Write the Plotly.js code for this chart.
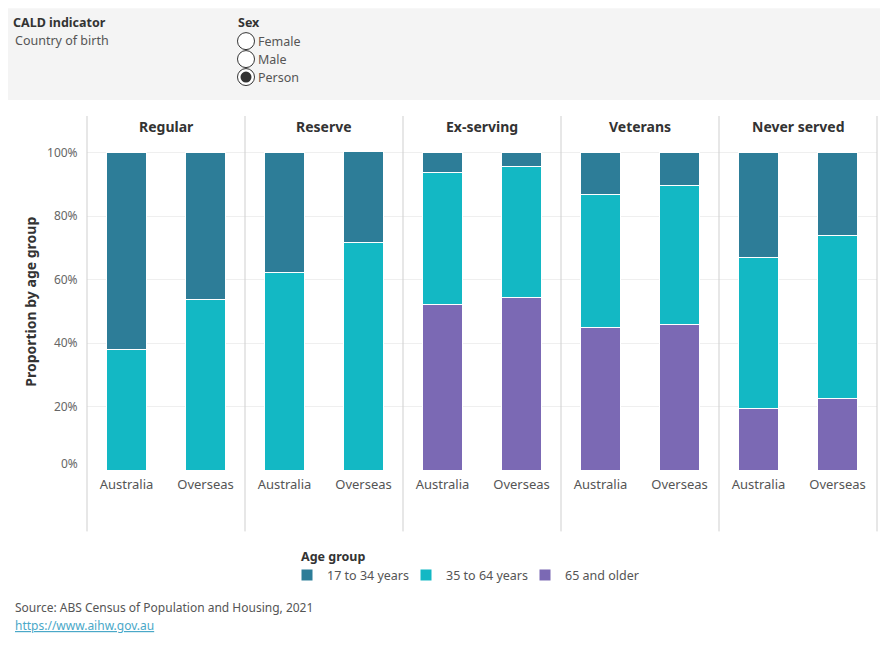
<!DOCTYPE html>
<html>
<head>
<meta charset="utf-8">
<script src="https://cdn.plot.ly/plotly-3.0.1.min.js"></script>
<style>
  html, body { margin: 0; padding: 0; background: #fff; }
  #chart { width: 890px; height: 650px; }
</style>
</head>
<body>
<div id="chart"></div>
<script>
// ---- Data ----
const services = ["Regular", "Reserve", "Ex-serving", "Veterans", "Never served"];
const birthCountries = ["Australia", "Overseas"];
const ageGroups = ["17 to 34 years", "35 to 64 years", "65 and older"];
const ageColors = ["#2d7d98", "#13b8c4", "#7b69b4"];

// values per service: [Australia, Overseas] (percent)
const age17to34 = {
  "Regular":      [62.0, 46.4],
  "Reserve":      [37.8, 28.5],
  "Ex-serving":   [6.4, 4.3],
  "Veterans":     [13.3, 10.2],
  "Never served": [32.9, 26.2]
};
const age35to64 = {
  "Regular":      [38.0, 53.6],
  "Reserve":      [62.2, 71.8],
  "Ex-serving":   [41.3, 41.3],
  "Veterans":     [41.9, 44.1],
  "Never served": [47.8, 51.4]
};
const age65plus = {
  "Regular":      [0, 0],
  "Reserve":      [0, 0],
  "Ex-serving":   [52.3, 54.4],
  "Veterans":     [44.8, 45.7],
  "Never served": [19.3, 22.4]
};
const yTicks = [20, 40, 60, 80, 100];

// ---- Layout geometry ----
const W = 890, H = 650;
const plotL = 87, plotR = 877, plotT = 116, plotB = 470.5;
const plotW = plotR - plotL, plotH = plotB - plotT;
const yMax = (plotB - plotT) / ((plotB - 152.7) / 100);
const px2x = p => (p - plotL) / plotW;
const px2y = p => (plotB - p) / plotH;

const FONT = '"Noto Sans", "DejaVu Sans", sans-serif';

const traces = [];
const layout = {
  width: W, height: H,
  margin: {l: plotL, r: W - plotR, t: plotT, b: H - plotB, pad: 0},
  paper_bgcolor: "#fff", plot_bgcolor: "#fff",
  barmode: "stack",
  bargap: 0.506,
  font: {family: FONT, size: 13, color: "#555"},
  showlegend: true,
  legend: {
    orientation: "h",
    x: px2x(287), xanchor: "left",
    y: px2y(561), yanchor: "top",
    traceorder: "normal",
    font: {family: FONT, size: 12.5, color: "#555"},
    itemwidth: 30,
    entrywidth: 74,
    tracegroupgap: 0,
    bgcolor: "rgba(0,0,0,0)"
  },
  shapes: [],
  annotations: []
};

const nPanels = services.length;
services.forEach((svc, i) => {
  const ax = i === 0 ? "x" : "x" + (i + 1);
  const axKey = i === 0 ? "xaxis" : "xaxis" + (i + 1);
  layout[axKey] = {
    domain: [i / nPanels, (i + 1) / nPanels],
    anchor: "y",
    type: "category",
    categoryorder: "array",
    categoryarray: birthCountries,
    range: [-0.5, 1.5],
    showgrid: false, zeroline: false, showline: false,
    ticks: "", ticklen: 0,
    ticklabelstandoff: 5,
    tickfont: {family: FONT, size: 13, color: "#555"},
    fixedrange: true
  };
  // stack 65+ at bottom, 17-34 on top
  [2, 1, 0].forEach(k => {
    const src = [age17to34, age35to64, age65plus][k];
    traces.push({
      type: "bar",
      x: birthCountries,
      y: src[svc],
      xaxis: ax, yaxis: "y",
      name: ageGroups[k],
      legendgroup: ageGroups[k],
      legendrank: k + 1,
      showlegend: i === 0,
      marker: {color: ageColors[k], line: {color: "#fff", width: 1}},
      hovertemplate: svc + "<br>%{x}<br>" + ageGroups[k] + ": %{y:.1f}%<extra></extra>"
    });
  });
  // panel header
  layout.annotations.push({
    text: "<b>" + svc + "</b>",
    xref: "paper", yref: "paper",
    x: (i + 0.5) / nPanels, y: px2y(127),
    xanchor: "center", yanchor: "middle",
    showarrow: false,
    font: {family: FONT, size: 14, color: "#333"}
  });
});

// panel dividers
for (let i = 0; i <= nPanels; i++) {
  layout.shapes.push({
    type: "line", xref: "paper", yref: "paper",
    x0: i / nPanels, x1: i / nPanels,
    y0: px2y(532), y1: 1,
    line: {color: "#cfcfcf", width: 1},
    layer: "above"
  });
}

layout.yaxis = {
  range: [0, yMax],
  tickvals: yTicks,
  ticktext: yTicks.map(v => v + "%"),
  showgrid: true, gridcolor: "#efefef", gridwidth: 1,
  zeroline: false, showline: false,
  ticks: "outside", ticklen: 6, tickcolor: "rgba(0,0,0,0)",
  tickfont: {family: FONT, size: 12, color: "#666"},
  fixedrange: true
};

// 0% tick label (drawn slightly above the baseline, as in the reference)
layout.annotations.push({
  text: "0%", xref: "paper", yref: "y",
  x: px2x(79.5), y: 0, yshift: 7,
  xanchor: "right", yanchor: "middle", showarrow: false,
  font: {family: FONT, size: 12, color: "#666"}
});

// y axis title
layout.annotations.push({
  text: "<b>Proportion by age group</b>",
  xref: "paper", yref: "paper",
  x: px2x(31), y: px2y(302),
  xanchor: "center", yanchor: "middle",
  textangle: -90, showarrow: false,
  font: {family: FONT, size: 14, color: "#333"}
});

// legend title
const txt = (s, xp, yp, size, color, bold) => layout.annotations.push({
  text: bold ? "<b>" + s + "</b>" : s,
  xref: "paper", yref: "paper", x: px2x(xp), y: px2y(yp),
  xanchor: "left", yanchor: "middle", showarrow: false,
  font: {family: FONT, size: size, color: color}
});
txt("Age group", 299, 557, 12.5, "#333", true);

// ---- Filter panel (top) ----
layout.shapes.push({
  type: "rect", xref: "paper", yref: "paper",
  x0: px2x(8), x1: px2x(880), y0: px2y(100), y1: px2y(8),
  fillcolor: "#f4f4f4", line: {width: 0}, layer: "below"
});
txt("CALD indicator", 11, 22, 12.5, "#333", true);
txt("Country of birth", 13, 40, 12.5, "#555", false);
txt("Sex", 236, 22, 12.5, "#333", true);
const sexOptions = ["Female", "Male", "Person"];
const selectedSex = "Person";
sexOptions.forEach((s, j) => {
  const cy = 41 + j * 18;
  layout.shapes.push({
    type: "circle", xref: "paper", yref: "paper",
    x0: px2x(237.5), x1: px2x(254.5), y0: px2y(cy + 8.5), y1: px2y(cy - 8.5),
    fillcolor: "#fff", line: {color: "#333", width: 1}
  });
  if (s === selectedSex) {
    layout.shapes.push({
      type: "circle", xref: "paper", yref: "paper",
      x0: px2x(240.5), x1: px2x(251.5), y0: px2y(cy + 5.5), y1: px2y(cy - 5.5),
      fillcolor: "#333", line: {width: 0}
    });
  }
  txt(s, 256, cy, 12.5, "#555", false);
});

// ---- Source ----
txt("Source: ABS Census of Population and Housing, 2021", 13, 608, 12, "#555", false);
txt("<span style='text-decoration:underline'>https://www.aihw.gov.au</span>", 13, 626, 12, "#4aa8c8", false);

Plotly.newPlot("chart", traces, layout, {displayModeBar: false, responsive: false});
</script>
</body>
</html>
